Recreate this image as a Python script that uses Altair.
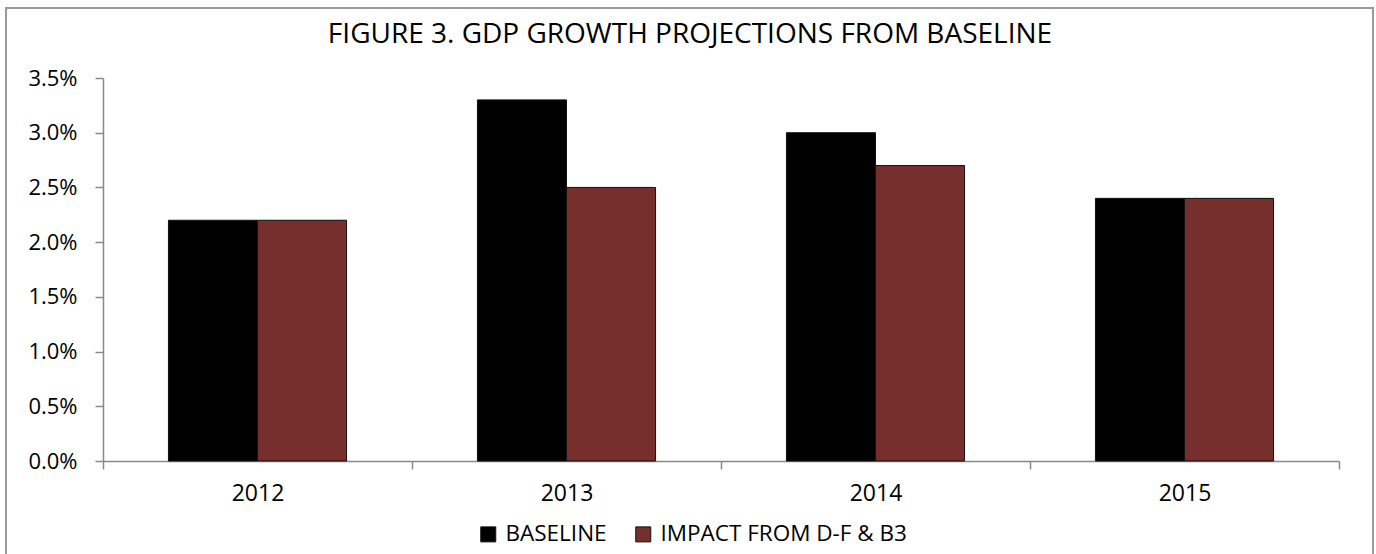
import altair as alt
import pandas as pd

# GDP growth projections by year, two scenarios
years = ["2012", "2013", "2014", "2015"]
baseline = [2.2, 3.3, 3.0, 2.4]
impact = [2.2, 2.5, 2.7, 2.4]
series = ["BASELINE", "IMPACT FROM D-F & B3"]
colors = ["#000000", "#772F2E"]

rows = []
for i, yr in enumerate(years):
    rows.append({"Year": yr, "Series": series[0], "Growth": baseline[i] / 100})
    rows.append({"Year": yr, "Series": series[1], "Growth": impact[i] / 100})
df = pd.DataFrame(rows)

FONT = "Open Sans"
AXIS_GRAY = "#898989"

bars = alt.Chart(df).mark_bar(stroke="#111111", strokeWidth=1).encode(
    x=alt.X(
        "Year:N",
        sort=years,
        scale=alt.Scale(paddingInner=0, paddingOuter=0),
        axis=alt.Axis(
            title=None,
            labelAngle=0,
            tickBand="extent",
            tickSize=8,
            labelPadding=13,
            labelFontSize=23,
        ),
    ),
    xOffset=alt.XOffset(
        "Series:N",
        sort=series,
        scale=alt.Scale(paddingInner=0, paddingOuter=0.735),
    ),
    y=alt.Y(
        "Growth:Q",
        scale=alt.Scale(domain=[0, 0.035], nice=False),
        axis=alt.Axis(
            title=None,
            format=".1%",
            values=[0, 0.005, 0.01, 0.015, 0.02, 0.025, 0.03, 0.035],
            tickSize=8,
            labelPadding=18,
            labelFontSize=22,
            grid=False,
        ),
    ),
    color=alt.Color(
        "Series:N",
        sort=series,
        scale=alt.Scale(domain=series, range=colors),
        legend=alt.Legend(
            title=None,
            orient="none",
            direction="horizontal",
            legendX=374,
            legendY=445,
            symbolType="square",
            symbolSize=225,
            symbolStrokeColor="#111111",
            symbolStrokeWidth=1,
            labelFontSize=22.5,
            labelFont=FONT,
            labelColor="#000000",
            labelOffset=6,
            labelLimit=400,
            columnPadding=25,
            padding=0,
        ),
    ),
)

# Outer border around the whole figure
frame = alt.Chart(pd.DataFrame({"k": [0]})).mark_rect(
    fill=None, stroke="#9a9a9a", strokeWidth=2, clip=False
).encode(
    x=alt.value(-97), x2=alt.value(1270),
    y=alt.value(-70), y2=alt.value(600),
)

chart = alt.layer(frame, bars).properties(
    width=1236,
    height=383,
    title=alt.TitleParams(
        "FIGURE 3. GDP GROWTH PROJECTIONS FROM BASELINE",
        fontSize=28,
        font=FONT,
        fontWeight="normal",
        color="#000000",
        anchor="middle",
        dx=-31,
        offset=-42,
    ),
    autosize=alt.AutoSizeParams(type="none"),
    padding={"left": 103, "top": 78, "right": 37, "bottom": 93},
).configure(
    background="#ffffff",
    view=alt.ViewConfig(stroke=None),
    axis=alt.AxisConfig(
        domainColor=AXIS_GRAY,
        tickColor=AXIS_GRAY,
        domainWidth=1.5,
        tickWidth=1.5,
        labelFont=FONT,
        labelColor="#000000",
    ),
)

chart.save("out.html", embed_options={"renderer": "svg", "actions": False})
